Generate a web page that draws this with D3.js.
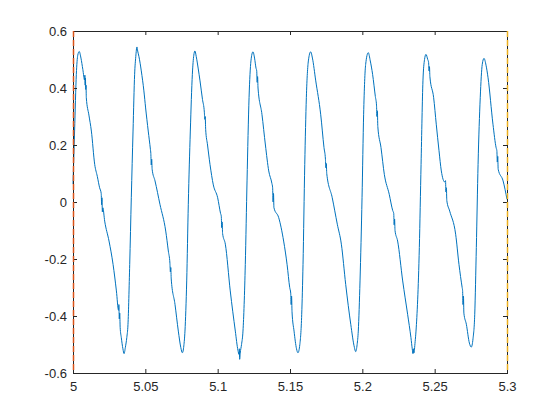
<!DOCTYPE html>
<html>
<head>
<meta charset="utf-8">
<script src="https://cdn.jsdelivr.net/npm/d3@7"></script>
<style>
  body { margin: 0; background: #fff; }
  .plot text { font-family: "Liberation Sans", Arial, sans-serif; font-size: 13px; fill: #262626; }
</style>
</head>
<body>
<div class="plot"></div>
<script>
// Signal (time in s, amplitude)
var timeValues = [
  5.0000, 5.0011, 5.0023, 5.0033, 5.0043, 5.0055, 5.0068, 5.0080, 5.0082, 5.0084, 5.0086, 5.0088, 5.0090, 5.0092,
  5.0110, 5.0127, 5.0150, 5.0168, 5.0184, 5.0195, 5.0198, 5.0200, 5.0203, 5.0206, 5.0219, 5.0249, 5.0277, 5.0300,
  5.0315, 5.0317, 5.0320, 5.0323, 5.0326, 5.0334, 5.0345, 5.0353, 5.0362, 5.0372, 5.0380, 5.0392, 5.0403, 5.0415,
  5.0426, 5.0434, 5.0442, 5.0447, 5.0456, 5.0472, 5.0490, 5.0502, 5.0520, 5.0535, 5.0538, 5.0541, 5.0544, 5.0547,
  5.0567, 5.0601, 5.0641, 5.0659, 5.0670, 5.0673, 5.0676, 5.0679, 5.0705, 5.0728, 5.0745, 5.0756, 5.0766, 5.0774,
  5.0786, 5.0797, 5.0811, 5.0825, 5.0835, 5.0843, 5.0852, 5.0865, 5.0878, 5.0895, 5.0908, 5.0911, 5.0914, 5.0917,
  5.0930, 5.0947, 5.0970, 5.1000, 5.1020, 5.1025, 5.1028, 5.1031, 5.1034, 5.1053, 5.1087, 5.1122, 5.1140, 5.1148,
  5.1150, 5.1152, 5.1156, 5.1165, 5.1175, 5.1191, 5.1203, 5.1217, 5.1230, 5.1244, 5.1255, 5.1265, 5.1270, 5.1273,
  5.1276, 5.1279, 5.1306, 5.1330, 5.1353, 5.1375, 5.1380, 5.1383, 5.1386, 5.1389, 5.1422, 5.1456, 5.1480, 5.1498,
  5.1505, 5.1508, 5.1511, 5.1514, 5.1528, 5.1545, 5.1555, 5.1568, 5.1581, 5.1590, 5.1602, 5.1613, 5.1627, 5.1643,
  5.1655, 5.1678, 5.1712, 5.1735, 5.1745, 5.1748, 5.1751, 5.1754, 5.1792, 5.1827, 5.1855, 5.1885, 5.1920, 5.1945,
  5.1954, 5.1964, 5.1972, 5.1984, 5.1998, 5.2009, 5.2023, 5.2041, 5.2055, 5.2071, 5.2090, 5.2098, 5.2101, 5.2104,
  5.2107, 5.2129, 5.2152, 5.2186, 5.2210, 5.2217, 5.2220, 5.2223, 5.2226, 5.2244, 5.2279, 5.2313, 5.2336, 5.2345,
  5.2350, 5.2353, 5.2356, 5.2365, 5.2371, 5.2394, 5.2406, 5.2419, 5.2430, 5.2440, 5.2452, 5.2458, 5.2461, 5.2464,
  5.2467, 5.2493, 5.2511, 5.2530, 5.2546, 5.2570, 5.2575, 5.2578, 5.2581, 5.2584, 5.2604, 5.2645, 5.2668, 5.2690,
  5.2693, 5.2696, 5.2699, 5.2702, 5.2719, 5.2740, 5.2753, 5.2765, 5.2777, 5.2788, 5.2800, 5.2815, 5.2829, 5.2841,
  5.2855, 5.2869, 5.2903, 5.2925, 5.2930, 5.2933, 5.2936, 5.2939, 5.2973, 5.3000
];
var signalValues = [
  0.063, 0.249, 0.448, 0.515, 0.528, 0.505, 0.465, 0.428, 0.445, 0.410, 0.435, 0.395, 0.410, 0.366,
  0.305, 0.249, 0.132, 0.090, 0.050, 0.030, -0.010, 0.015, -0.035, -0.020, -0.067, -0.137, -0.219, -0.312,
  -0.380, -0.360, -0.410, -0.390, -0.440, -0.476, -0.515, -0.532, -0.510, -0.475, -0.430, -0.219, 0.015, 0.249,
  0.448, 0.510, 0.544, 0.530, 0.510, 0.460, 0.390, 0.330, 0.249, 0.185, 0.170, 0.130, 0.150, 0.115,
  0.074, -0.008, -0.102, -0.172, -0.215, -0.245, -0.230, -0.270, -0.359, -0.453, -0.510, -0.529, -0.505, -0.453,
  -0.277, -0.008, 0.249, 0.448, 0.515, 0.530, 0.510, 0.470, 0.425, 0.360, 0.315, 0.290, 0.300, 0.255,
  0.200, 0.132, 0.060, 0.015, -0.040, -0.050, -0.090, -0.070, -0.110, -0.148, -0.312, -0.453, -0.520, -0.535,
  -0.515, -0.552, -0.530, -0.500, -0.453, -0.219, 0.074, 0.366, 0.495, 0.527, 0.505, 0.470, 0.460, 0.420,
  0.440, 0.400, 0.308, 0.200, 0.109, 0.065, 0.050, 0.000, 0.030, -0.020, -0.055, -0.137, -0.220, -0.300,
  -0.320, -0.360, -0.330, -0.385, -0.453, -0.515, -0.529, -0.500, -0.394, -0.219, 0.132, 0.366, 0.495, 0.527,
  0.505, 0.425, 0.308, 0.191, 0.150, 0.120, 0.135, 0.100, 0.015, -0.078, -0.148, -0.289, -0.429, -0.510,
  -0.525, -0.500, -0.453, -0.277, 0.015, 0.308, 0.483, 0.524, 0.495, 0.448, 0.370, 0.340, 0.300, 0.320,
  0.265, 0.191, 0.097, 0.027, -0.030, -0.040, -0.080, -0.060, -0.100, -0.137, -0.277, -0.394, -0.476, -0.515,
  -0.532, -0.515, -0.530, -0.490, -0.453, -0.160, 0.132, 0.425, 0.500, 0.518, 0.500, 0.490, 0.460, 0.475,
  0.440, 0.366, 0.273, 0.180, 0.109, 0.070, 0.075, 0.035, 0.050, 0.005, -0.032, -0.113, -0.219, -0.300,
  -0.310, -0.360, -0.330, -0.390, -0.429, -0.495, -0.509, -0.480, -0.394, -0.160, 0.132, 0.366, 0.483, 0.504,
  0.480, 0.436, 0.273, 0.190, 0.180, 0.140, 0.160, 0.115, 0.074, 0.009
];

var xTicks = [5, 5.05, 5.1, 5.15, 5.2, 5.25, 5.3];
var xTickLabels = ['5', '5.05', '5.1', '5.15', '5.2', '5.25', '5.3'];
var yTicks = [-0.6, -0.4, -0.2, 0, 0.2, 0.4, 0.6];
var yTickLabels = ['-0.6', '-0.4', '-0.2', '0', '0.2', '0.4', '0.6'];

// Vertical marker lines at the window edges
var markerTimes = [5, 5.3];
var markerColors = ['#D95319', '#EDB120'];

var margin = { top: 31, right: 53, bottom: 47, left: 73 };
var width = 560 - margin.left - margin.right;
var height = 420 - margin.top - margin.bottom;

var svg = d3.select('.plot')
  .append('svg')
    .attr('width', width + margin.left + margin.right)
    .attr('height', height + margin.top + margin.bottom)
  .append('g')
    .attr('transform', 'translate(' + margin.left + ', ' + margin.top + ')');

var xScale = d3.scaleLinear()
  .domain([5, 5.3])
  .range([0, width]);

var yScale = d3.scaleLinear()
  .domain([-0.6, 0.6])
  .range([height, 0]);

var points = timeValues.map((t, i) => [t, signalValues[i]]);

var line = d3.line()
  .x(d => xScale(d[0]))
  .y(d => yScale(d[1]))
  .curve(d3.curveMonotoneX);

svg.append('path')
  .datum(points)
  .attr('fill', 'none')
  .attr('stroke', '#0072BD')
  .attr('stroke-width', 1)
  .attr('stroke-linejoin', 'round')
  .attr('d', line);

// Axes with inward ticks on all four sides
function styleAxis(g) {
  g.select('.domain').remove();
  g.selectAll('.tick line').attr('stroke', '#262626').attr('stroke-width', 1);
  g.selectAll('.tick text').attr('fill', '#262626');
}

svg.append('g')
  .attr('transform', `translate(0, ${height})`)
  .call(d3.axisBottom(xScale)
    .tickValues(xTicks)
    .tickFormat((d, i) => xTickLabels[i])
    .tickSize(-4)
    .tickPadding(9))
  .call(styleAxis);

svg.append('g')
  .call(d3.axisTop(xScale)
    .tickValues(xTicks)
    .tickFormat('')
    .tickSize(-4))
  .call(styleAxis);

svg.append('g')
  .call(d3.axisLeft(yScale)
    .tickValues(yTicks)
    .tickFormat((d, i) => yTickLabels[i])
    .tickSize(-4)
    .tickPadding(6))
  .call(styleAxis);

svg.append('g')
  .attr('transform', `translate(${width}, 0)`)
  .call(d3.axisRight(yScale)
    .tickValues(yTicks)
    .tickFormat('')
    .tickSize(-4))
  .call(styleAxis);

svg.append('rect')
  .attr('x', 0.5)
  .attr('y', 0.5)
  .attr('width', width)
  .attr('height', height)
  .attr('fill', 'none')
  .attr('stroke', '#262626')
  .attr('stroke-width', 1);

svg.selectAll('.marker')
  .data(markerTimes)
  .enter()
  .append('line')
    .attr('class', 'marker')
    .attr('x1', d => xScale(d) + 0.5)
    .attr('x2', d => xScale(d) + 0.5)
    .attr('y1', 0)
    .attr('y2', height)
    .attr('stroke', (d, i) => markerColors[i])
    .attr('stroke-width', 1.5)
    .attr('stroke-dasharray', '6,3');
</script>
</body>
</html>
